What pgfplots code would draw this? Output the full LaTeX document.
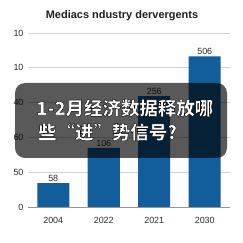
\documentclass[border=0pt]{standalone}
\usepackage{fontspec}
\setmainfont{Liberation Sans}
\newfontfamily\cjk{Noto Sans CJK SC}[BoldFeatures={FakeBold=2}]
\usepackage{pgfplots}
\pgfplotsset{compat=1.18}
\definecolor{barblue}{RGB}{18,94,156}
\definecolor{gridgray}{RGB}{212,212,212}
\definecolor{labelgray}{RGB}{45,45,45}
\definecolor{axisgray}{RGB}{150,150,150}

% white heading letters with a dark outline (fill white, stroke black)
\newcommand{\outlined}[1]{\special{pdf:code q 1 g 0 G}#1\special{pdf:code Q}}

\begin{document}
\begin{tikzpicture}[x=1bp,y=1bp]
\path[fill=white,use as bounding box] (0,0) rectangle (243,243);
\node[font=\fontsize{11}{13}\selectfont\bfseries, text=black!88] at (122,227) {Mediacs ndustry dervergents};
\begin{axis}[
  at={(28bp,36bp)}, anchor=south west, scale only axis,
  width=202bp, height=174bp,
  ymode=log, log origin=infty,
  xmin=-0.5, xmax=3.5, ymin=38.6, ymax=752.7,
  ybar, bar width=32bp,
  axis x line*=bottom, axis y line*=left,
  x axis line style={axisgray, line width=0.6bp},
  y axis line style={draw=none},
  xtick={0,1,2,3}, xticklabels={2004,2022,2021,2030},
  xtick style={draw=none},
  extra x ticks={-0.5,0.5,1.5,2.5,3.5}, extra x tick labels={},
  extra x tick style={tick align=outside, major tick length=3bp,
    major tick style={axisgray, line width=0.5bp}},
  ytick={38.6,69.9,126.6,229.4,415.5,752.7},
  yticklabels={0,50,60,40,10,10},
  ytick style={draw=none},
  ymajorgrids, major grid style={gridgray, line width=0.6bp},
  tick label style={font=\fontsize{9}{10}\selectfont, text=labelgray},
  yticklabel style={xshift=-1bp},
  xticklabel style={yshift=-2bp},
  /pgf/number format/assume math mode=true,
  point meta=rawy,
  nodes near coords,
  every node near coord/.append style={font=\fontsize{9}{10}\selectfont, text=labelgray, inner sep=1.5bp},
]
\addplot[fill=barblue, draw=none] coordinates {(0,58) (1,106) (2,256) (3,506)};
\end{axis}
% dark caption banner over the chart
\fill[black, opacity=0.65, rounded corners=10bp] (15,85) rectangle (227,160);
\node[anchor=west, inner sep=0, font=\cjk\bfseries\fontsize{18.5}{20}\selectfont] at (36,135) {\outlined{1-2月经济数据释放哪}};
\node[anchor=west, inner sep=0, font=\cjk\bfseries\fontsize{18.5}{20}\selectfont] at (38,111) {\outlined{些“进”势信号?}};
\end{tikzpicture}
\end{document}
